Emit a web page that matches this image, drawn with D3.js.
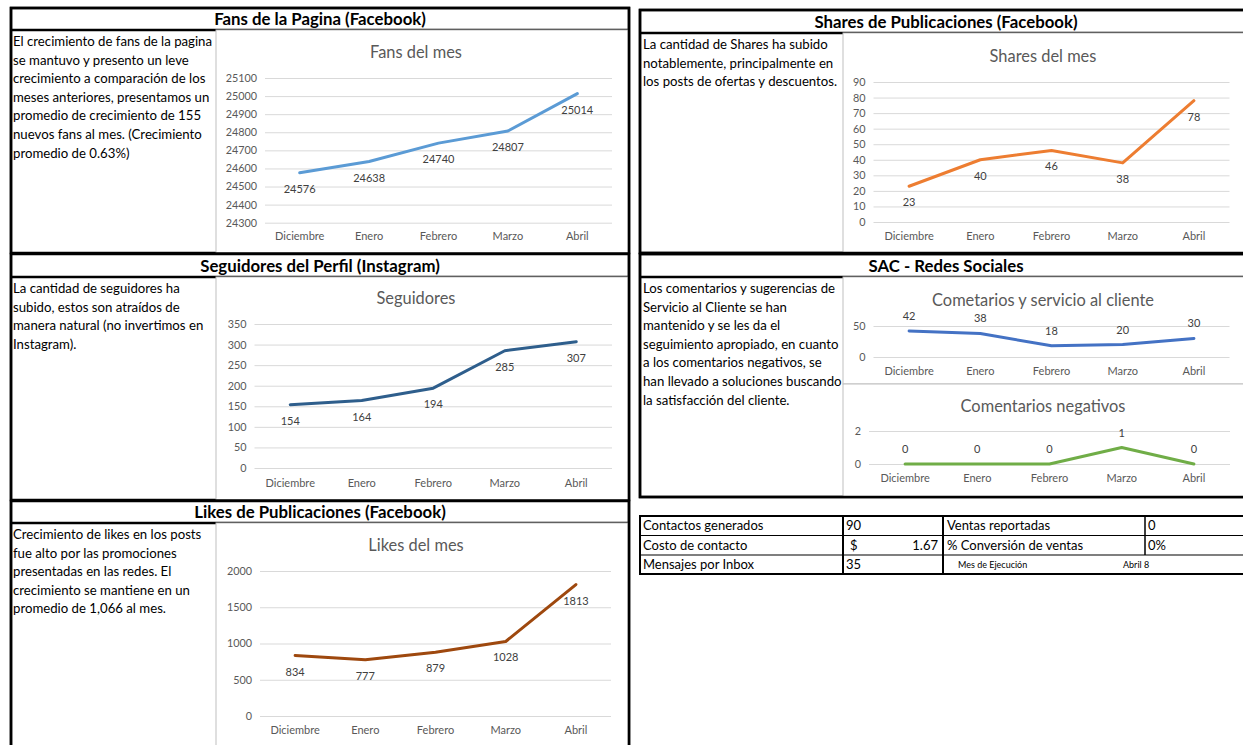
<!DOCTYPE html>
<html>
<head>
<meta charset="utf-8">
<script src="https://cdn.jsdelivr.net/npm/d3@7"></script>
<style>
  body { margin: 0; background: #fff; }
  svg { display: block; font-family: Lato, "Open Sans", sans-serif; }
</style>
</head>
<body>
<div id="sheet"></div>
<script>
// Data
var months = ["Diciembre", "Enero", "Febrero", "Marzo", "Abril"];

var fans = [24576, 24638, 24740, 24807, 25014];
var fansTicks = [24300, 24400, 24500, 24600, 24700, 24800, 24900, 25000, 25100];

var seguidores = [154, 164, 194, 285, 307];
var seguidoresTicks = [0, 50, 100, 150, 200, 250, 300, 350];

var likes = [834, 777, 879, 1028, 1813];
var likesTicks = [0, 500, 1000, 1500, 2000];

var shares = [23, 40, 46, 38, 78];
var sharesTicks = [0, 10, 20, 30, 40, 50, 60, 70, 80, 90];

var comentarios = [42, 38, 18, 20, 30];
var comentariosTicks = [0, 50];

var negativos = [0, 0, 0, 1, 0];
var negativosTicks = [0, 2];

var tableRows = [
  ["Contactos generados", "90", "Ventas reportadas", "0"],
  ["Costo de contacto", "1.67", "% Conversión de ventas", "0%"],
  ["Mensajes por Inbox", "35", "Mes de Ejecución", "Abril 8"]
];

var svg = d3.select("#sheet")
  .append("svg")
  .attr("width", 1243)
  .attr("height", 745);

// Panels (header band + description column)
function panel(x, y, w, h, headH, title, lines, textX) {
  svg.append("rect")
    .attr("x", x).attr("y", y).attr("width", w).attr("height", h)
    .attr("fill", "none").attr("stroke", "#000").attr("stroke-width", 2.5);
  svg.append("line")
    .attr("x1", x).attr("x2", x + w)
    .attr("y1", y + headH).attr("y2", y + headH)
    .attr("stroke", "#000").attr("stroke-width", 2.5);
  svg.append("text")
    .attr("x", x + w / 2).attr("y", y + headH / 2)
    .attr("dy", "0.36em")
    .attr("text-anchor", "middle")
    .style("font-weight", "bold")
    .style("font-size", "16.8px")
    .text(title);
  var t = svg.append("text")
    .style("font-size", "13.2px")
    .attr("fill", "#000");
  lines.forEach(function(s, i) {
    t.append("tspan")
      .attr("x", textX)
      .attr("y", y + headH + 16 + i * 18.6)
      .text(s);
  });
}

panel(11, 8, 618, 245, 22, "Fans de la Pagina (Facebook)", [
  "El crecimiento de fans de la pagina",
  "se mantuvo y presento un leve",
  "crecimiento a comparación de los",
  "meses anteriores, presentamos un",
  "promedio de crecimiento de 155",
  "nuevos fans al mes. (Crecimiento",
  "promedio de 0.63%)"
], 13);

panel(11, 254, 618, 246, 23, "Seguidores del Perfil (Instagram)", [
  "La cantidad de seguidores ha",
  "subido, estos son atraídos de",
  "manera natural (no invertimos en",
  "Instagram)."
], 13);

panel(11, 501, 618, 260, 22, "Likes de Publicaciones (Facebook)", [
  "Crecimiento de likes en los posts",
  "fue alto por las promociones",
  "presentadas en las redes. El",
  "crecimiento se mantiene en un",
  "promedio de 1,066 al mes."
], 13);

panel(640, 10, 612, 243, 23, "Shares de Publicaciones (Facebook)", [
  "La cantidad de Shares ha subido",
  "notablemente, principalmente en",
  "los posts de ofertas y descuentos."
], 643);

panel(640, 254, 612, 243, 23, "SAC - Redes Sociales", [
  "Los comentarios y sugerencias de",
  "Servicio al Cliente se han",
  "mantenido y se les da el",
  "seguimiento apropiado, en cuanto",
  "a los comentarios negativos, se",
  "han llevado a soluciones buscando",
  "la satisfacción del cliente."
], 643);

// Line charts
function lineChart(o) {
  var g = svg.append("g");

  g.append("rect")
    .attr("x", o.box[0]).attr("y", o.box[1])
    .attr("width", o.box[2]).attr("height", o.box[3])
    .attr("fill", "#fff").attr("stroke", "#bfbfbf");

  var xScale = d3.scaleBand()
    .domain(months)
    .range([o.left, o.right]);

  var yScale = d3.scaleLinear()
    .domain([o.ticks[0], o.ticks[o.ticks.length - 1]])
    .range([o.bottom, o.top]);

  var leftAxis = d3.axisLeft(yScale)
    .tickValues(o.ticks)
    .tickSize(-(o.right - o.left))
    .tickPadding(8)
    .tickFormat(d3.format("d"));

  var yg = g.append("g")
    .attr("transform", `translate(${o.left}, 0)`)
    .call(leftAxis);
  yg.select(".domain").remove();
  yg.selectAll("line").attr("stroke", "#d9d9d9");
  yg.selectAll("text")
    .attr("fill", "#595959")
    .style("font-size", "10.8px")
    .style("font-family", "Lato, sans-serif");

  var bottomAxis = d3.axisBottom(xScale)
    .tickSize(0)
    .tickPadding(o.labelPad || 10);

  var xg = g.append("g")
    .attr("transform", `translate(0, ${o.bottom})`)
    .call(bottomAxis);
  xg.select(".domain").remove();
  xg.selectAll("text")
    .attr("fill", "#595959")
    .style("font-size", "11px")
    .style("font-family", "Lato, sans-serif");

  g.append("text")
    .attr("x", o.box[0] + 200)
    .attr("y", o.titleY)
    .attr("dy", "0.35em")
    .attr("text-anchor", "middle")
    .attr("fill", "#595959")
    .style("font-size", "16.4px")
    .text(o.title);

  var line = d3.line()
    .x(function(d, i) { return xScale(months[i]) + xScale.bandwidth() / 2; })
    .y(function(d) { return yScale(d); });

  g.append("path")
    .datum(o.values)
    .attr("d", line)
    .attr("fill", "none")
    .attr("stroke", o.color)
    .attr("stroke-width", 3)
    .attr("stroke-linejoin", "round")
    .attr("stroke-linecap", "round");

  g.selectAll(".lbl")
    .data(o.values)
    .enter()
    .append("text")
    .attr("class", "lbl")
    .attr("x", function(d, i) { return xScale(months[i]) + xScale.bandwidth() / 2; })
    .attr("y", function(d) { return yScale(d) + (o.above ? -11 : 20); })
    .attr("text-anchor", "middle")
    .attr("fill", "#404040")
    .style("font-size", "11px")
    .text(function(d) { return d; });
}

lineChart({ box: [216, 30, 412, 223], left: 265, right: 612, top: 78, bottom: 222.7,
  ticks: fansTicks, values: fans, color: "#5b9bd5", title: "Fans del mes", titleY: 52 });

lineChart({ box: [216, 277, 412, 223], left: 254.5, right: 612, top: 324, bottom: 468,
  ticks: seguidoresTicks, values: seguidores, color: "#2e5e8c", title: "Seguidores", titleY: 298, labelPad: 11 });

lineChart({ box: [216, 523, 412, 240], left: 260, right: 611, top: 571, bottom: 716,
  ticks: likesTicks, values: likes, color: "#9e480e", title: "Likes del mes", titleY: 545 });

lineChart({ box: [843, 33, 420, 220], left: 873.5, right: 1229.5, top: 82, bottom: 222,
  ticks: sharesTicks, values: shares, color: "#ed7d31", title: "Shares del mes", titleY: 56 });

lineChart({ box: [843, 277, 420, 107], left: 873.5, right: 1229.5, top: 326, bottom: 357,
  ticks: comentariosTicks, values: comentarios, color: "#4472c4", above: true,
  title: "Cometarios y servicio al cliente", titleY: 300 });

lineChart({ box: [843, 384, 420, 113], left: 869, right: 1230, top: 431, bottom: 464,
  ticks: negativosTicks, values: negativos, color: "#70ad47", above: true,
  title: "Comentarios negativos", titleY: 406 });

// redraw panel outlines over the chart boxes
svg.append("rect")
  .attr("x", 640).attr("y", 254).attr("width", 612).attr("height", 243)
  .attr("fill", "none").attr("stroke", "#000").attr("stroke-width", 2.5);
svg.append("rect")
  .attr("x", 640).attr("y", 10).attr("width", 612).attr("height", 243)
  .attr("fill", "none").attr("stroke", "#000").attr("stroke-width", 2.5);
svg.append("rect")
  .attr("x", 11).attr("y", 8).attr("width", 618).attr("height", 760)
  .attr("fill", "none").attr("stroke", "#000").attr("stroke-width", 2.5);
[253.5, 500.5].forEach(function(y) {
  svg.append("line").attr("x1", 11).attr("x2", 629).attr("y1", y).attr("y2", y)
    .attr("stroke", "#000").attr("stroke-width", 2.5);
});

// Summary table
var colX = [640, 843, 943, 1145, 1243];
var rowY = [516, 535.5, 555, 574];
var tg = svg.append("g");

tg.append("rect")
  .attr("x", colX[0]).attr("y", rowY[0])
  .attr("width", colX[4] - colX[0] + 10).attr("height", rowY[3] - rowY[0])
  .attr("fill", "none").attr("stroke", "#000").attr("stroke-width", 2);
[rowY[1], rowY[2]].forEach(function(y) {
  tg.append("line").attr("x1", colX[0]).attr("x2", colX[4]).attr("y1", y).attr("y2", y)
    .attr("stroke", "#000").attr("stroke-width", 1.2);
});
[colX[1], colX[2]].forEach(function(x) {
  tg.append("line").attr("x1", x).attr("x2", x).attr("y1", rowY[0]).attr("y2", rowY[3])
    .attr("stroke", "#000").attr("stroke-width", 2);
});
tg.append("line").attr("x1", colX[3]).attr("x2", colX[3]).attr("y1", rowY[0]).attr("y2", rowY[2])
  .attr("stroke", "#000").attr("stroke-width", 1.5);

tableRows.forEach(function(r, i) {
  var cy = (rowY[i] + rowY[i + 1]) / 2;
  var cell = function(x, s, size, anchor) {
    tg.append("text")
      .attr("x", x).attr("y", cy).attr("dy", "0.36em")
      .attr("text-anchor", anchor || "start")
      .style("font-size", size || "13px")
      .text(s);
  };
  cell(colX[0] + 3, r[0]);
  if (i === 1) {
    cell(colX[1] + 7, "$");
    cell(colX[2] - 5, r[1], null, "end");
  } else {
    cell(colX[1] + 3, r[1]);
  }
  if (i === 2) {
    cell(colX[2] + 15, r[2], "9px");
    cell(colX[3] - 22, r[3], "9px");
  } else {
    cell(colX[2] + 4, r[2]);
    cell(colX[3] + 3, r[3]);
  }
});
</script>
</body>
</html>
